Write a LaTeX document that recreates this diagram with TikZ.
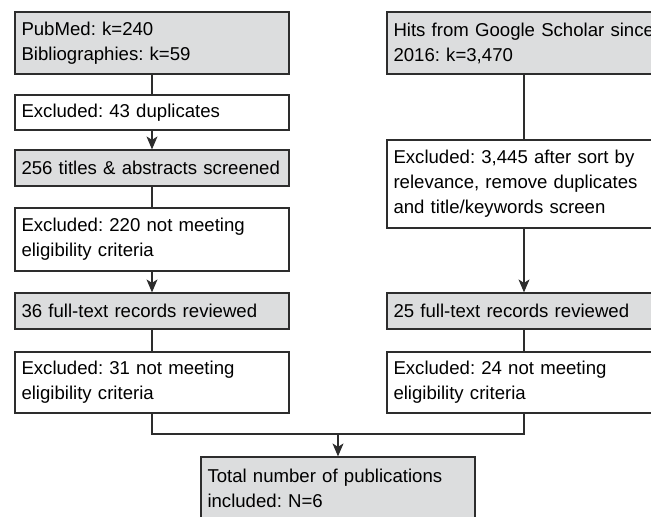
\documentclass[tikz,border=0pt]{standalone}
\usepackage{fontspec}
\setmainfont{Liberation Sans}
\usepackage{tikz}
\usetikzlibrary{arrows.meta}

\definecolor{boxgray}{RGB}{220,221,222}
\definecolor{linegray}{RGB}{45,45,45}

\tikzset{
        box/.style={draw=linegray, line width=1.2pt, fill=white, text width=261pt, inner xsep=6.5pt,
                inner ysep=0pt, align=left, font=\fontsize{18.6}{25}\selectfont\frenchspacing},
        graybox/.style={box, fill=boxgray},
        link/.style={draw=linegray, line width=1.2pt},
        arrow/.style={link, -{Stealth[length=13pt, width=11pt, inset=3.5pt]}}
}

\begin{document}
\begin{tikzpicture}[x=1pt, y=-1pt]
        \useasboundingbox (0,0) rectangle (651,517);

        \node[graybox, minimum height=62pt] (pubmed) at (152, 43) {PubMed: k=240\\Bibliographies: k=59};
        \node[box, minimum height=35pt] (dupl) at (152, 112.5) {Excluded: 43 duplicates};
        \node[graybox, minimum height=36pt] (screen) at (152, 168) {256 titles \& abstracts screened};
        \node[box, minimum height=63pt] (excla) at (152, 239.5) {Excluded: 220 not meeting\\eligibility criteria};
        \node[graybox, minimum height=36pt] (fulla) at (152, 311) {36 full-text records reviewed};
        \node[box, minimum height=61pt] (exclb) at (152, 382.5) {Excluded: 31 not meeting\\eligibility criteria};

        \node[graybox, minimum height=62pt] (scholar) at (524, 43) {Hits from Google Scholar since\\2016: k=3,470};
        \node[box, minimum height=88pt] (sorted) at (524, 184) {Excluded: 3,445 after sort by\\relevance, remove duplicates\\and title/keywords screen};
        \node[graybox, minimum height=36pt] (fullb) at (524, 311) {25 full-text records reviewed};
        \node[box, minimum height=61pt] (exclc) at (524, 382.5) {Excluded: 24 not meeting\\eligibility criteria};

        \node[graybox, minimum height=62pt] (total) at (338, 488) {Total number of publications\\included: N=6};

        \draw[link] (pubmed) -- (dupl);
        \draw[arrow] (dupl) -- (screen);
        \draw[link] (screen) -- (excla);
        \draw[arrow] (excla) -- (fulla);
        \draw[link] (fulla) -- (exclb);

        \draw[link] (scholar) -- (sorted);
        \draw[arrow] (sorted) -- (fullb);
        \draw[link] (fullb) -- (exclc);

        \coordinate (join) at (338, 434);
        \draw[link] (exclb.south) |- (join) -| (exclc.south);
        \draw[arrow] (join) -- (total);
\end{tikzpicture}
\end{document}
